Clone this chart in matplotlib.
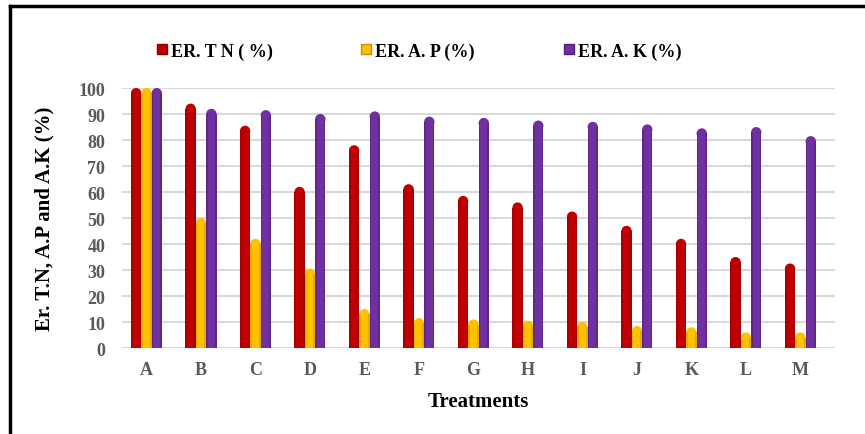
import matplotlib.pyplot as plt
import numpy as np
from matplotlib.lines import Line2D
from matplotlib.patches import Ellipse

treatments = ['A', 'B', 'C', 'D', 'E', 'F', 'G', 'H', 'I', 'J', 'K', 'L', 'M']
er_tn = [100, 94, 85.5, 62, 78, 63, 58.5, 56, 52.5, 47, 42, 35, 32.5]
er_ap = [100, 50, 42, 30.5, 15, 11.5, 11, 10.5, 10, 8.5, 8, 6, 6]
er_ak = [100, 92, 91.5, 90, 91, 89, 88.5, 87.5, 87, 86, 84.5, 85, 81.5]

series = [
    ('ER. T N ( %)', er_tn, '#C00000', '#8B0000'),
    ('ER. A. P (%)', er_ap, '#FFC000', '#C89200'),
    ('ER. A. K (%)', er_ak, '#7030A0', '#4E1F72'),
]

plt.rcParams['font.family'] = ['Liberation Serif', 'DejaVu Serif']

fig = plt.figure(figsize=(8.65, 4.35), dpi=100)
ax = fig.add_axes([0.141, 0.1977, 0.824, 0.5977])

x = np.arange(len(treatments))
width = 0.19
ax.set_xlim(-0.45, 12.63)
ax.set_ylim(0, 100)

# cap height in data units so the rounded top looks circular
bbox = ax.get_window_extent()
px_per_x = bbox.width / (12.63 + 0.45)
px_per_y = bbox.height / 100
cap_h = width * px_per_x / px_per_y

handles = []
for i, (name, vals, color, edge) in enumerate(series):
    xs = x + (i - 1) * width
    r = cap_h / 2
    ax.bar(xs, [v - r for v in vals], width=width, color=color,
           linewidth=0, zorder=3)
    for xi, v in zip(xs, vals):
        ax.add_patch(Ellipse((xi, v - r), width, cap_h, facecolor=color,
                             linewidth=0, zorder=3))
    # darker edges for a cylinder look
    ax.bar(xs - width * 0.42, [v - r for v in vals], width=width * 0.16,
           color=edge, alpha=0.45, linewidth=0, zorder=4)
    ax.bar(xs + width * 0.42, [v - r for v in vals], width=width * 0.16,
           color=edge, alpha=0.45, linewidth=0, zorder=4)
    handles.append(Line2D([], [], marker='s', linestyle='', markersize=7,
                          markerfacecolor=color, markeredgecolor=edge,
                          label=name))

ax.set_yticks(range(0, 101, 10))
ax.yaxis.grid(True, color='#D9D9D9', linewidth=1.5, zorder=0)
ax.set_axisbelow(True)
for s in ax.spines.values():
    s.set_visible(False)
ax.tick_params(axis='both', length=0, colors='#595959', labelsize=13)
ax.tick_params(axis='y', pad=12)
ax.tick_params(axis='x', pad=9)
ax.set_xticks(x)
ax.set_xticklabels(treatments)
for lbl in ax.get_xticklabels() + ax.get_yticklabels():
    lbl.set_fontweight('bold')

ax.set_ylabel('Er. T.N, A.P and A.K (%)', fontsize=15, fontweight='bold',
              labelpad=17)
ax.set_xlabel('Treatments', fontsize=15, fontweight='bold', labelpad=10)

fig.legend(handles=handles, loc='center', bbox_to_anchor=(0.483, 0.88),
           ncol=3, frameon=False, handlelength=0.8, handletextpad=0.1,
           columnspacing=4.8, prop={'weight': 'bold', 'size': 13})

# black frame on the left and top edges
fig.add_artist(Line2D([10 / 865, 10 / 865], [0, 1 - 7 / 435], color='black',
                      linewidth=2.5, transform=fig.transFigure))
fig.add_artist(Line2D([10 / 865, 1], [1 - 7 / 435, 1 - 7 / 435], color='black',
                      linewidth=2.5, transform=fig.transFigure))

fig.savefig('out.png', dpi=100)
